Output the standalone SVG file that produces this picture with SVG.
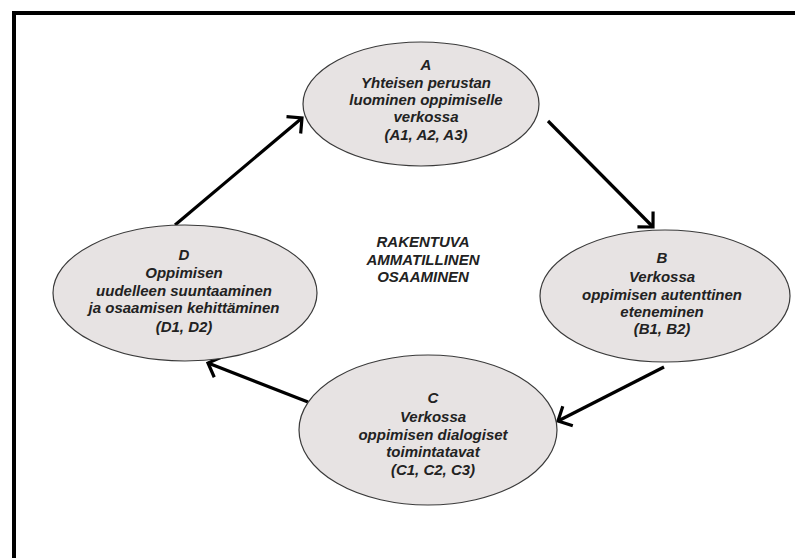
<svg xmlns="http://www.w3.org/2000/svg" width="795" height="558" viewBox="0 0 795 558">
<style>
.node ellipse{fill:#e7e3e3;stroke:#3a3a3a;stroke-width:1.2}
.node text,.center text{font-family:"Liberation Sans",Arial,sans-serif;font-size:15px;font-weight:bold;font-style:italic;fill:#222;text-anchor:middle}
.conn line{stroke:#000;stroke-width:3.2;marker-end:url(#arr)}
</style>
<defs>
<marker id="arr" markerUnits="userSpaceOnUse" markerWidth="30" markerHeight="30" viewBox="-15 -15 30 30" refX="0" refY="0" orient="auto" overflow="visible">
<path d="M-11,-11 L0,0 L-11,11" fill="none" stroke="#000" stroke-width="3.2" stroke-linejoin="miter"/>
</marker>
</defs>
<rect width="795" height="558" fill="#fff"/>
<rect x="14" y="13" width="800" height="560" fill="none" stroke="#000" stroke-width="4"/>
<g id="connectors" class="conn">
<line x1="548" y1="121" x2="653" y2="227"/>
<line x1="664" y1="367" x2="558" y2="421"/>
<line x1="308" y1="402" x2="208" y2="363"/>
<line x1="175" y1="225" x2="302" y2="118"/>
</g>
<g id="nodeA" class="node">
<ellipse cx="421" cy="104" rx="118" ry="62"/>
<text x="426" y="70">A</text>
<text x="426" y="88">Yhteisen perustan</text>
<text x="426" y="105">luominen oppimiselle</text>
<text x="426" y="122">verkossa</text>
<text x="426" y="140">(A1, A2, A3)</text>
</g>
<g id="nodeB" class="node">
<ellipse cx="665" cy="296" rx="125" ry="66"/>
<text x="662" y="263">B</text>
<text x="662" y="282">Verkossa</text>
<text x="662" y="300">oppimisen autenttinen</text>
<text x="662" y="317">eteneminen</text>
<text x="662" y="334">(B1, B2)</text>
</g>
<g id="nodeC" class="node">
<ellipse cx="428" cy="430" rx="129" ry="75"/>
<text x="433" y="403">C</text>
<text x="433" y="422">Verkossa</text>
<text x="433" y="440">oppimisen dialogiset</text>
<text x="433" y="457">toimintatavat</text>
<text x="433" y="475">(C1, C2, C3)</text>
</g>
<g id="nodeD" class="node">
<ellipse cx="185" cy="293" rx="132" ry="68"/>
<text x="184" y="260">D</text>
<text x="184" y="278">Oppimisen</text>
<text x="184" y="296">uudelleen suuntaaminen</text>
<text x="184" y="313">ja osaamisen kehittäminen</text>
<text x="184" y="332">(D1, D2)</text>
</g>
<g id="center" class="center">
<text x="423" y="247">RAKENTUVA</text>
<text x="423" y="265">AMMATILLINEN</text>
<text x="423" y="282">OSAAMINEN</text>
</g>
</svg>
